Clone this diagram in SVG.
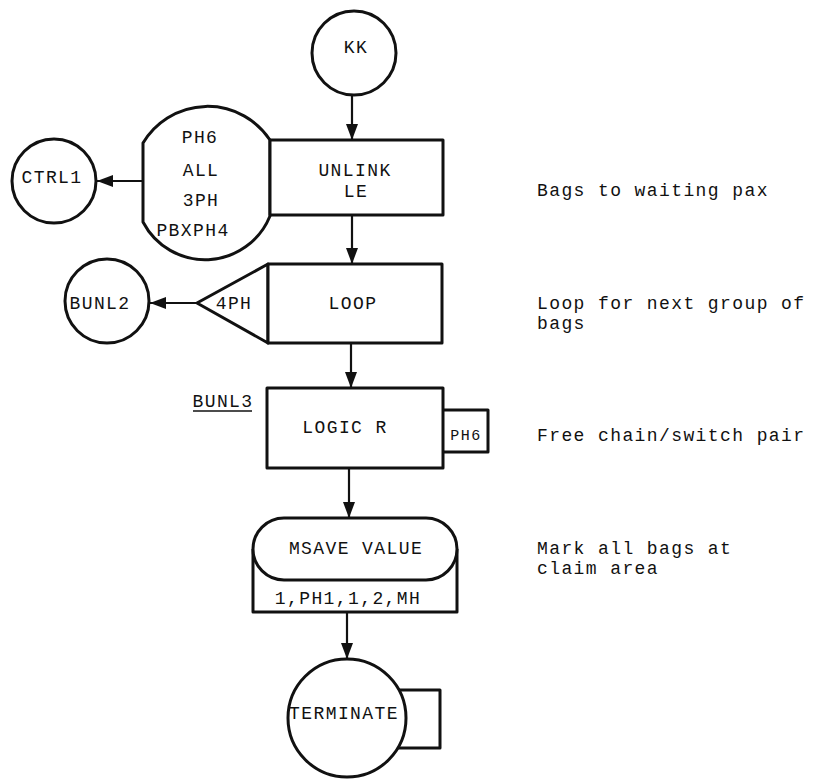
<svg xmlns="http://www.w3.org/2000/svg" width="815" height="780" viewBox="0 0 815 780">
<style>
.s{fill:#fff;stroke:#111;stroke-width:3;stroke-linejoin:round}
.c{fill:none;stroke:#111;stroke-width:2.2}
text{font-family:"Liberation Mono","Courier New",monospace;font-size:18px;letter-spacing:1.4px;fill:#111}
.m{text-anchor:middle}
</style>
<defs>
<marker id="ah" markerUnits="userSpaceOnUse" markerWidth="16" markerHeight="12" viewBox="0 0 16 12" refX="16" refY="6" orient="auto">
<path d="M0,0 L16,6 L0,12 Z" fill="#111"/>
</marker>
</defs>
<rect width="815" height="780" fill="#fff"/>
<g id="connectors">
<path class="c" d="M352,95 L352,140" marker-end="url(#ah)"/>
<path class="c" d="M352,215 L352,264" marker-end="url(#ah)"/>
<path class="c" d="M351,343 L351,388" marker-end="url(#ah)"/>
<path class="c" d="M349,468 L349,518" marker-end="url(#ah)"/>
<path class="c" d="M347,612 L347,659" marker-end="url(#ah)"/>
<path class="c" d="M143,181 L97,181" marker-end="url(#ah)"/>
<path class="c" d="M197,303 L150,303" marker-end="url(#ah)"/>
</g>
<g id="kk">
<circle class="s" cx="354" cy="53" r="42"/>
<text class="m" x="356" y="53">KK</text>
</g>
<g id="unlink">
<path class="s" d="M143,143 A75,75 0 0 1 270,140 L270,216 A70,70 0 0 1 143,222 Z"/>
<rect class="s" x="270" y="140" width="173" height="75"/>
<text class="m" x="355" y="176">UNLINK</text>
<text class="m" x="356" y="197">LE</text>
<text class="m" x="200" y="143">PH6</text>
<text class="m" x="201" y="176">ALL</text>
<text class="m" x="201" y="206">3PH</text>
<text class="m" x="193" y="236">PBXPH4</text>
</g>
<g id="ctrl1">
<circle class="s" cx="54" cy="181" r="42"/>
<text class="m" x="52" y="183">CTRL1</text>
</g>
<g id="loop">
<path class="s" d="M268,264 L197,303 L268,343 Z"/>
<rect class="s" x="268" y="264" width="174" height="79"/>
<text class="m" x="234" y="309">4PH</text>
<text class="m" x="353" y="309">LOOP</text>
</g>
<g id="bunl2">
<circle class="s" cx="107" cy="301" r="42"/>
<text class="m" x="100" y="309">BUNL2</text>
</g>
<g id="logic">
<rect class="s" x="436" y="410" width="52" height="42"/>
<rect class="s" x="267" y="388" width="176" height="80"/>
<text class="m" x="345" y="433">LOGIC R</text>
<text class="m" x="466" y="440" style="font-size:15px;letter-spacing:1.5px">PH6</text>
<text class="m" x="223" y="407">BUNL3</text>
<line x1="193" y1="411" x2="252" y2="411" stroke="#111" stroke-width="1.6"/>
</g>
<g id="msave">
<path class="s" d="M253,549 L253,612 L457,612 L457,549"/>
<rect class="s" x="253" y="518" width="204" height="62" rx="31" ry="31"/>
<text class="m" x="356" y="554">MSAVE VALUE</text>
<text class="m" x="348" y="604">1,PH1,1,2,MH</text>
</g>
<g id="terminate">
<rect class="s" x="380" y="690" width="60" height="58"/>
<circle class="s" cx="347" cy="718" r="59"/>
<text class="m" x="344" y="719">TERMINATE</text>
</g>
<g id="notes">
<text x="537" y="196">Bags to waiting pax</text>
<text x="537" y="309">Loop for next group of</text>
<text x="537" y="329">bags</text>
<text x="537" y="441">Free chain/switch pair</text>
<text x="537" y="554">Mark all bags at</text>
<text x="537" y="574">claim area</text>
</g>
</svg>
